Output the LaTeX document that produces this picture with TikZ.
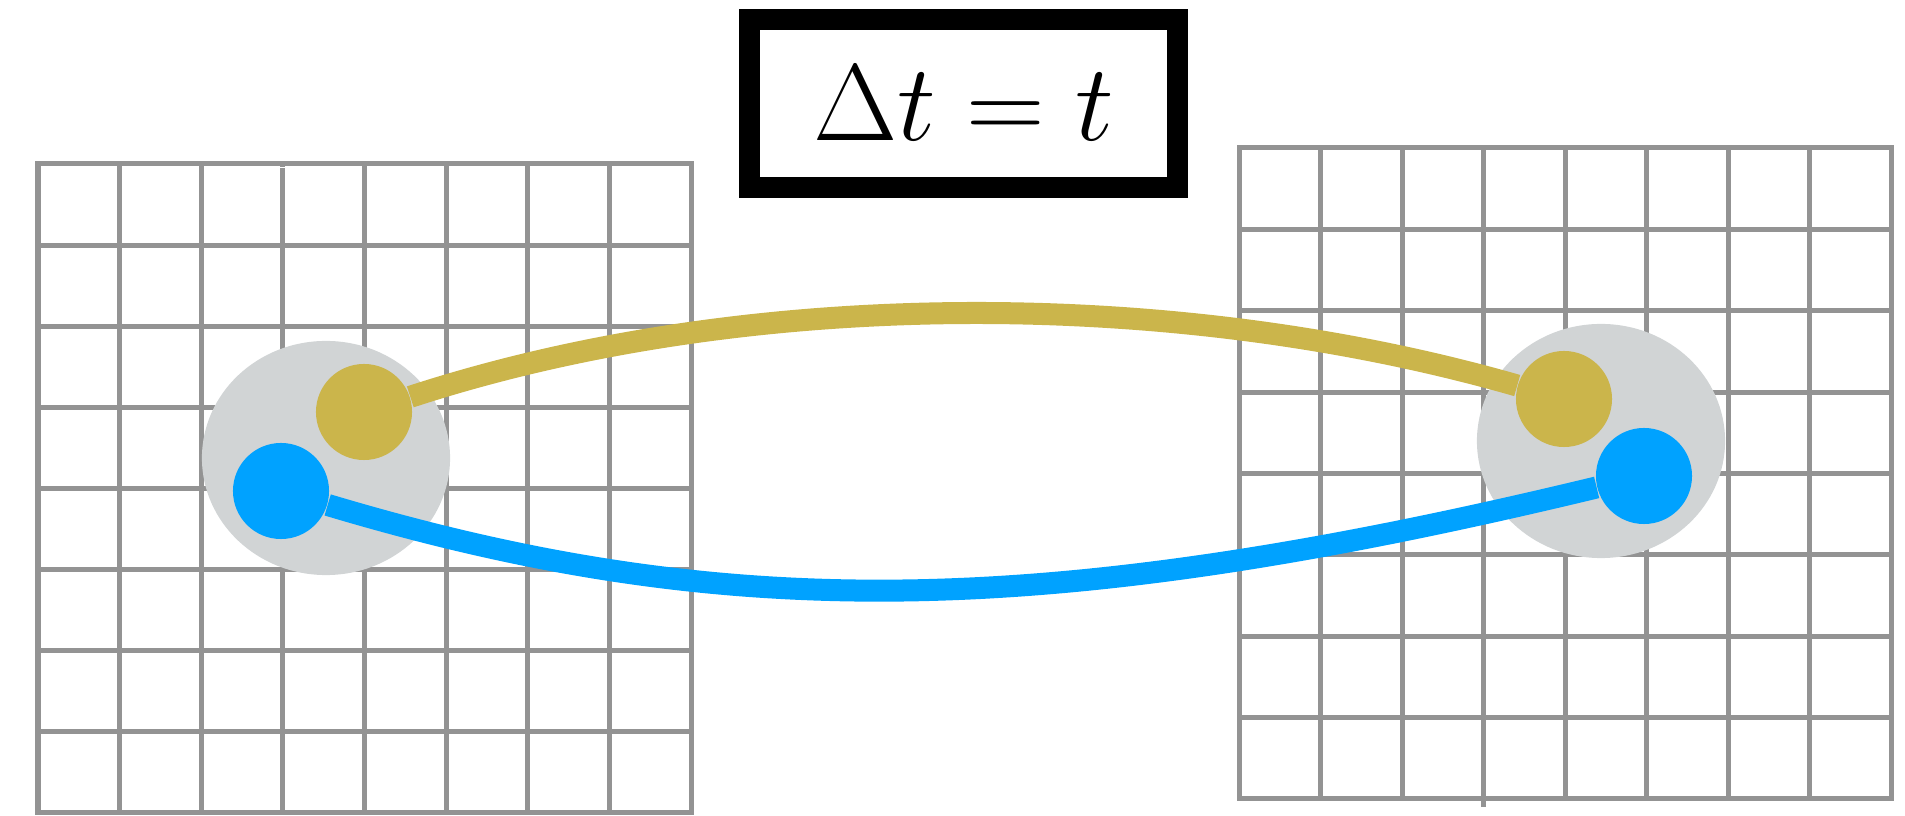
\RequirePackage{fix-cm}
\documentclass[tikz,border=0pt]{standalone}
\usetikzlibrary{shapes.geometric}
\definecolor{gridgray}{RGB}{147,147,147}
\definecolor{cloudgray}{RGB}{209,212,213}
\definecolor{goldc}{RGB}{203,181,75}
\definecolor{bluec}{RGB}{0,162,255}
\begin{document}
\begin{tikzpicture}[x=0.01cm,y=-0.01cm,
  gridline/.style={draw=gridgray,line width=0.05cm,line cap=rect},
  cloud/.style={ellipse,fill=cloudgray,minimum width=2.48cm,minimum height=2.34cm,inner sep=0pt},
  dot/.style={circle,minimum size=0.96cm,inner sep=0pt},
  link/.style={line width=0.22cm}]
  \useasboundingbox (0,0) rectangle (1905,816);
  % two lattices
  \foreach \i in {0,...,8} {
    \draw[gridline] (38+81.625*\i,164) -- (38+81.625*\i,813);
    \draw[gridline] (38,164+81.125*\i) -- (691,164+81.125*\i);
    \draw[gridline] (1239+81.5*\i,148) -- (1239+81.5*\i,799);
    \draw[gridline] (1239,148+81.375*\i) -- (1891,148+81.375*\i);
  }
  \fill[white] (280.2,166.7) rectangle (285.6,168.5);
  \draw[gridline] (1483.5,799) -- (1483.5,805);
  % time step
  \node[draw,line width=0.215cm,minimum width=4.275cm,minimum height=1.675cm,inner sep=0pt,
    font=\fontsize{31}{37}\selectfont] (clock) at (963.5,103.5) {$\Delta t = t$};
  % particles
  \node[cloud] (lcloud) at (326,458) {};
  \node[cloud] (rcloud) at (1601,441) {};
  \node[dot,fill=goldc] (lgold) at (364,412) {};
  \node[dot,fill=bluec] (lblue) at (281,491) {};
  \node[dot,fill=goldc] (rgold) at (1564,399) {};
  \node[dot,fill=bluec] (rblue) at (1644,476) {};
  \draw[link,goldc] (lgold) .. controls (746,287) and (1174,287) .. (rgold);
  \draw[link,bluec] (lblue) .. controls (719,622) and (1039,622) .. (rblue);
\end{tikzpicture}
\end{document}
